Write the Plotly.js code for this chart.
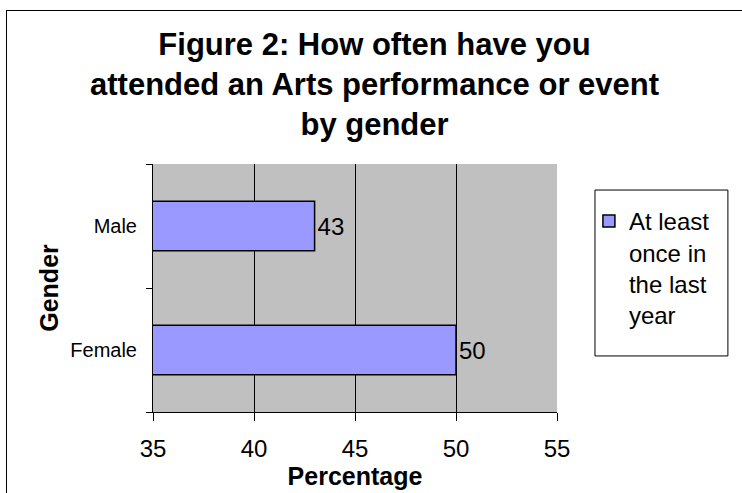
<!DOCTYPE html>
<html>
<head>
<meta charset="utf-8">
<script src="https://cdn.plot.ly/plotly-3.0.1.min.js"></script>
<style>
html,body{margin:0;padding:0;width:742px;height:493px;overflow:hidden;background:#fff;}
#frame{position:absolute;left:6px;top:10px;width:760px;height:500px;border:1px solid #000;}
#chart{width:760px;height:500px;}
</style>
</head>
<body>
<div id="frame"><div id="chart"></div></div>
<script>
const categories = ["Female", "Male"];
const values = [50, 43];
const seriesName = "At least<br>once in<br>the last<br>year";
const xTicks = [35, 40, 45, 50, 55];
const titleText = "Figure 2: How often have you<br>attended an Arts performance or event<br>by gender";

const F = "Liberation Sans, Arial, sans-serif";

const trace = {
  type: "bar",
  orientation: "h",
  y: categories,
  x: values,
  name: seriesName,
  text: values.map(String),
  textposition: "outside",
  textfont: {family: F, size: 24, color: "#000"},
  cliponaxis: false,
  marker: {color: "#9999ff", line: {color: "#000", width: 1.5}},
  showlegend: true,
  hoverinfo: "none"
};

const layout = {
  width: 760, height: 500,
  margin: {l: 146, r: 210, t: 153, b: 99},
  paper_bgcolor: "#fff",
  plot_bgcolor: "#c0c0c0",
  bargap: 0.6,
  font: {family: F, color: "#000"},
  title: {
    text: titleText,
    font: {family: F, size: 31, color: "#000", weight: "bold"},
    x: 0.4836, xref: "container", xanchor: "center",
    y: 0.913, yref: "container", yanchor: "top"
  },
  xaxis: {
    range: [35, 55],
    tickvals: xTicks,
    ticktext: xTicks.map(String),
    showgrid: true, gridcolor: "#000", gridwidth: 1,
    showline: true, linecolor: "#000", linewidth: 1,
    ticks: "outside", ticklen: 8, tickcolor: "#000",
    tickfont: {family: F, size: 24, color: "#000"},
    ticklabelstandoff: 7,
    zeroline: false,
    title: {text: "Percentage", font: {family: F, size: 25, color: "#000", weight: "bold"}, standoff: 0}
  },
  yaxis: {
    type: "category",
    showgrid: false,
    showline: true, linecolor: "#000", linewidth: 1,
    ticks: "outside", ticklen: 6, tickcolor: "#000", tickson: "boundaries",
    tickfont: {family: F, size: 20, color: "#000"},
    ticklabelstandoff: 11,
    title: {text: "Gender", font: {family: F, size: 25, color: "#000", weight: "bold"}, standoff: 4}
  },
  shapes: [{
    type: "rect", xref: "paper", yref: "paper",
    x0: 1.094, x1: 1.423, y0: 0.226, y1: 0.895,
    line: {color: "#000", width: 1}, fillcolor: "#fff", layer: "below"
  }],
  showlegend: true,
  legend: {
    x: 1.079, xanchor: "left", y: 0.859, yanchor: "top",
    bgcolor: "rgba(0,0,0,0)", borderwidth: 0,
    font: {family: F, size: 24, color: "#000"},
    valign: "top",
    itemwidth: 30
  }
};

Plotly.newPlot("chart", [trace], layout, {displayModeBar: false, staticPlot: true});
</script>
</body>
</html>
